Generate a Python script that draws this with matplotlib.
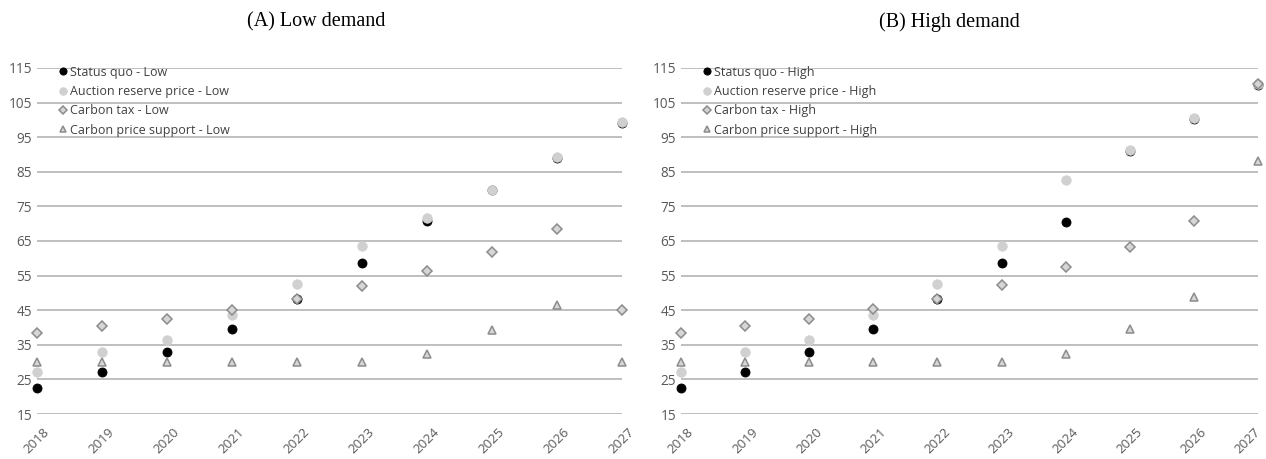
import matplotlib
matplotlib.use("Agg")
import matplotlib.pyplot as plt
from matplotlib.transforms import ScaledTranslation

years = list(range(2018, 2028))
yticks = list(range(15, 116, 10))

# Low demand scenario (price)
low_status  = [22.4, 27.0, 32.9, 39.7, 48.3, 58.5, 70.8, 79.6, 89.0, 99.1]
low_auction = [27.0, 33.0, 36.3, 43.5, 52.7, 63.6, 71.7, 79.8, 89.2, 99.3]
low_tax     = [38.5, 40.3, 42.5, 45.1, 48.3, 52.0, 56.4, 61.7, 68.4, 45.1]
low_cps     = [30.0, 30.0, 30.0, 30.0, 30.0, 30.0, 32.3, 39.3, 46.4, 30.0]

# High demand scenario
high_status  = [22.4, 27.0, 32.9, 39.7, 48.3, 58.5, 70.5, 91.0, 100.1, 110.2]
high_auction = [27.0, 33.0, 36.3, 43.5, 52.7, 63.6, 82.7, 91.3, 100.4, 110.4]
high_tax     = [38.5, 40.4, 42.5, 45.4, 48.3, 52.4, 57.4, 63.2, 70.7, 110.4]
high_cps     = [30.0, 30.0, 30.0, 30.0, 30.0, 30.0, 32.3, 39.5, 48.8, 88.1]

panels = [
    ("(A) Low demand", "Low", [low_status, low_auction, low_tax, low_cps]),
    ("(B) High demand", "High", [high_status, high_auction, high_tax, high_cps]),
]
names = ["Status quo", "Auction reserve price", "Carbon tax", "Carbon price support"]
styles = [
    dict(marker="o", ms=6.5, mfc="black", mec="black", mew=0.6),
    dict(marker="o", ms=6.8, mfc="#d0d0d0", mec="#d0d0d0", mew=0.6),
    dict(marker="D", ms=4.6, mfc="#d6d6d6", mec="#8c8c8c", mew=1.1),
    dict(marker="^", ms=6.2, mfc="#d6d6d6", mec="#8c8c8c", mew=1.1),
]

fig = plt.figure(figsize=(12.66, 4.59), dpi=100)
positions = [[0.0292, 0.098, 0.4621, 0.754], [0.5379, 0.098, 0.4558, 0.754]]
title_x = [0.25, 0.75]
grey = "#595959"

for i, (pos, (title, tag, series)) in enumerate(zip(positions, panels)):
    ax = fig.add_axes(pos)
    for vals, name, st in zip(series, names, styles):
        ax.plot(years, vals, ls="none", clip_on=False, zorder=3,
                label=f"{name} - {tag}", **st)
    ax.set_xlim(2018, 2027)
    ax.set_ylim(15, 115)
    ax.set_yticks(yticks)
    ax.set_xticks(years)
    ax.set_xticklabels([str(y) for y in years], rotation=45, fontsize=9.5,
                       color=grey, family="Open Sans")
    ax.tick_params(axis="x", length=0, pad=8)
    ax.tick_params(axis="y", length=0, pad=3.5, labelsize=9.8, labelcolor=grey)
    for t in ax.get_yticklabels():
        t.set_family("Open Sans")
    if i == 1:
        last = ax.get_xticklabels()[-1]
        last.set_transform(last.get_transform()
                           + ScaledTranslation(-0.10, 0, fig.dpi_scale_trans))
    ax.grid(axis="y", color="#bfbfbf", lw=1.4, zorder=1)
    ax.set_axisbelow(True)
    for s in ax.spines.values():
        s.set_visible(False)
    ax.legend(loc="upper left", bbox_to_anchor=(0.04, 1.006), frameon=False,
              prop={"family": "Open Sans", "size": 9}, labelcolor="#404040",
              handlelength=0.5, handletextpad=0.3, labelspacing=0.5,
              markerscale=0.8, borderpad=0, borderaxespad=0)
    fig.text(title_x[i], 0.952, title, family="Liberation Serif", fontsize=14.5,
             ha="center", va="center")

fig.savefig("out.png", dpi=100)
